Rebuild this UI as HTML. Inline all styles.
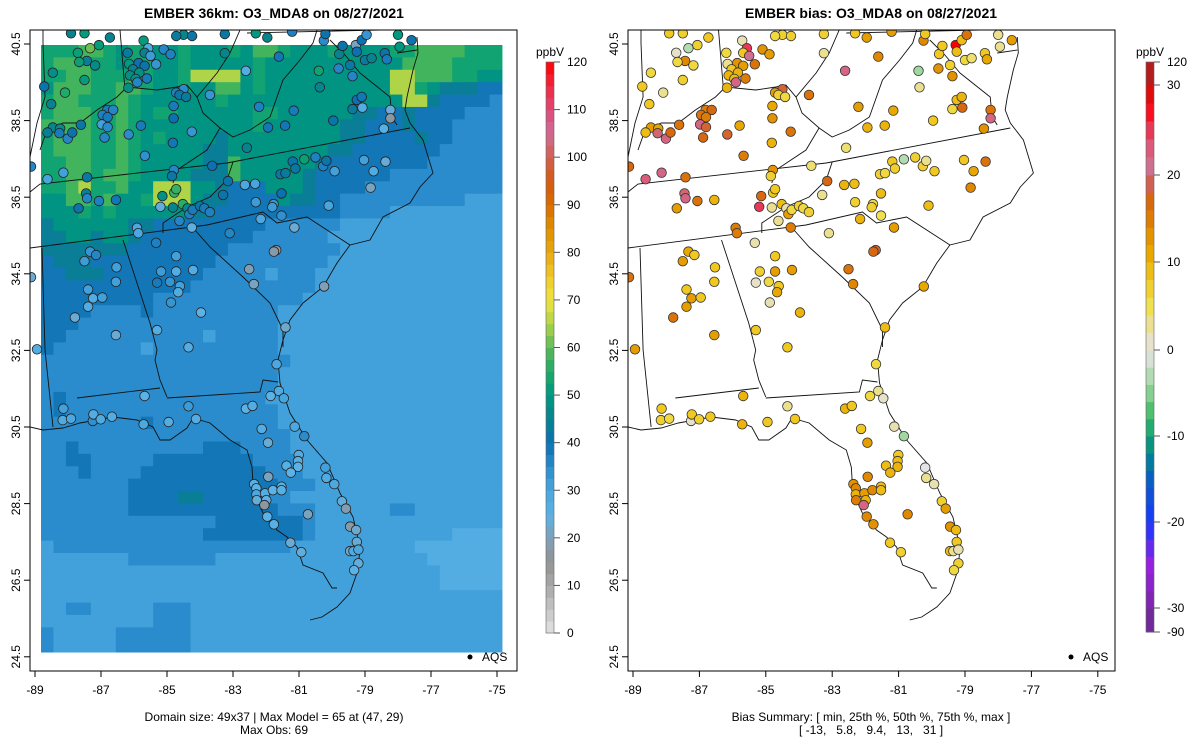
<!DOCTYPE html>
<html><head><meta charset="utf-8"><title>EMBER O3_MDA8</title>
<style>
html,body{margin:0;padding:0;background:#fff;}
svg{display:block;font-family:"Liberation Sans",Arial,sans-serif;}
</style></head>
<body>
<svg id="chart" width="1200" height="750" viewBox="0 0 1200 750" xmlns="http://www.w3.org/2000/svg">
<defs>
<clipPath id="clipL"><rect x="30" y="30" width="487" height="641"/></clipPath>
<clipPath id="clipR"><rect x="628" y="30" width="487" height="641"/></clipPath>
</defs>
<text x="274" y="18" text-anchor="middle" font-size="14" font-weight="bold">EMBER 36km: O3_MDA8 on 08/27/2021</text>
<text x="871" y="18" text-anchor="middle" font-size="14" font-weight="bold">EMBER bias: O3_MDA8 on 08/27/2021</text>
<g id="gridL" clip-path="url(#clipL)"></g>
<g id="mapL" clip-path="url(#clipL)"></g>
<g id="mapR" clip-path="url(#clipR)"></g>
<g id="ptsL" clip-path="url(#clipL)"></g>
<g id="ptsR" clip-path="url(#clipR)"></g>
<rect x="30" y="30" width="487" height="641" fill="none" stroke="#000" stroke-width="1"/>
<rect x="628" y="30" width="487" height="641" fill="none" stroke="#000" stroke-width="1"/>
<g id="axes"></g>
<g id="cbL"></g>
<g id="cbR"></g>
<circle cx="470" cy="657" r="2.5" fill="#000"/>
<text x="482" y="661" font-size="12">AQS</text>
<circle cx="1071" cy="657" r="2.5" fill="#000"/>
<text x="1083" y="661" font-size="12">AQS</text>
<text x="274" y="721" text-anchor="middle" font-size="12">Domain size: 49x37 | Max Model = 65 at (47, 29)</text>
<text x="274" y="734" text-anchor="middle" font-size="12">Max Obs: 69</text>
<text x="871" y="721" text-anchor="middle" font-size="12">Bias Summary: [ min, 25th %, 50th %, 75th %, max ]</text>
<text x="871" y="734" text-anchor="middle" font-size="12" xml:space="preserve">[ -13,   5.8,   9.4,   13,   31 ]</text>
</svg>
<script>
// ---- data ----
const modelRows = [
"ggghhgfggffgfffgfhhgfffgffffgghhhhggg",
"ghhhggfggffgfffffgfffffffffffhhhhggg",
"gghhggghgffgiiiifgffffffffffiihhhggff",
"fhhhgghhgffgffhhfgffffffffffiigfeeedd",
"ghhggghgffffffgffffffffffffffiieddddcc",
"ghhhgghgfggffffffggffffffeeddeddddccc",
"hhhhgghgfffffffffgffffffeedddedddcccc",
"ghhhgghgfgffffefffffffffeeddddeddccccc",
"ghhhgghgfffffeeffffffffeedddddddcccccc",
"gghhgghgfffffeehffffffeddddddddccccccc",
"gghhghhgffffeeehfffffeddddddccccccccccc",
"gghigghffiiiffedddfffeddddccccccccccc",
"ffhhghffgiiifeeddddfeeddccccccccccbbbb",
"fffgfgffffffeeddddddddddccccbbbbbbbbbbb",
"effffffeedddddddddccccccbbbbbbbbbbbbb",
"eeffeffedddddddddccccccbbbbbbbbbbbbbb",
"eeeeeeeddddddddcccccccccbbbbbbbbbbbbbb",
"deeeddddddddddcccccccccbbbbbbbbbbbbbb",
"ddeeeddddddddcccccbcccbbbbbbbbbbbbbbb",
"ddddddddddddccccccccccbbbbbbbbbbbbbbb",
"dddddddddccccccccccccbbbbbbbbbbbbbbbbb",
"ddddccccdccccccccccbbbbbbbbbbbbbbbbbb",
"dddccccccccccccccccbbbbbbbbbbbbbbbbbb",
"ddcccccccccccbcccccbbbbbbbbbbbbbbbbbb",
"dcccccccbccccccccccbbbbbbbbbbbbbbbbbb",
"ccccccccccccccccccccbbbbbbbbbbbbbbbbb",
"cccccccccccccccccccbbbbbbbbbbbbbbbbbb",
"cccccccccccccccccccbbbbbbbbbbbbbbbbbb",
"cdccccccccccccccccbbbbbbbbbbbbbbbbbbb",
"cdcccccccccccccccccbbbbbbbbbbbbbbbbbb",
"ccccccccdccccccccccbbbbbbbbbbbbbbbbbb",
"ccccccccccccccccccccbbbbbbbbbbbbbbbbb",
"ccdccccccccccdddccccbbbbbbbbbbbbbbbbb",
"ccddcccccddddddddccccbbbbbbbbbbbbbbbbb",
"cccdccccddddddddddcccbbbbbbbbbbbbbbbbb",
"cccccccddddddddddddcccbbbbbbbbbbbbbbbb",
"cccccccddddeedddddccbbbbbbbbbbbbbbbbbb",
"cccccccddddddddddddcccbbbbbbccbbbbbbbb",
"ccccccccccccccdddddddcbbbbbbbbbbbbbbbbb",
"cccccccccccccddddddddcbbbbbbbbbbbaaaaa",
"bcccccccccccccccccccbbbbbbbbbbaaaaaaa",
"bbbbbbbcccccccbbbbbbbbbbbbbbbbbaaaaaa",
"bbbbbbbbbbbbbbbbbbbbbbbbbbbbbbbbaaaaa",
"bbbbbbbbbbbbbbbbbbbbbbbbbbbbbbbbaaaaa",
"bbbbbbbbbbbbbbbbbbbbbbbbbbbbbbbbbbbbb",
"bbccbbbbbcccbbbbbbbbbbbbbbbbbbbbbbbbb",
"bbbbbbbbbcccbbbbbbbbbbbbbbbbbbbbbbbbb",
"cbbbbbccccccbbbbbbbbbbbbbbbbbbbbbbbbb",
"cbbbbbccccccbbbbbbbbbbbbbbbbbbbbbbbbb"];
const modelCodeValues = {a:27,b:31,c:35,d:39,e:44,f:49,g:53,h:58,i:65};
const stationLon = [-87.91,-87.50,-86.73,-87.33,-87.70,-87.06,-87.43,-87.66,-87.18,-88.46,-87.50,-88.72,-88.09,-88.51,-85.71,-85.57,-86.19,-85.68,-85.50,-85.10,-84.89,-86.15,-85.86,-85.68,-85.33,-86.03,-86.12,-85.84,-85.95,-85.90,-85.61,-86.17,-86.81,-86.63,-86.95,-86.80,-87.61,-86.98,-86.80,-86.89,-86.16,-85.79,-88.46,-88.24,-88.62,-88.26,-88.01,-87.87,-84.50,-84.24,-84.72,-83.25,-83.25,-82.31,-81.96,-81.21,-81.61,-82.61,-84.50,-84.72,-84.62,-84.42,-83.70,-84.80,-84.80,-84.25,-84.82,-85.67,-82.21,-81.16,-81.94,-81.42,-82.58,-79.96,-80.40,-80.37,-79.80,-79.78,-79.38,-79.45,-79.68,-80.25,-80.20,-79.28,-79.25,-79.00,-78.80,-78.40,-78.34,-78.00,-77.95,-77.59,-79.10,-78.95,-79.25,-79.10,-79.38,-79.08,-78.23,-78.23,-78.43,-83.63,-84.79,-84.85,-84.78,-84.72,-83.15,-83.30,-85.14,-85.20,-84.82,-84.52,-84.38,-84.32,-84.22,-84.00,-83.87,-83.70,-84.62,-84.25,-85.91,-85.87,-85.33,-83.10,-82.64,-82.33,-81.53,-81.56,-81.41,-81.19,-81.11,-80.84,-80.50,-80.27,-80.17,-79.92,-79.03,-78.38,-78.74,-78.83,-82.31,-81.77,-81.81,-81.53,-82.16,-81.14,-80.10,-81.69,-81.76,-82.51,-82.37,-80.24,-81.41,-88.62,-88.14,-87.42,-87.45,-87.42,-87.06,-86.55,-87.68,-89.12,-87.33,-87.15,-87.50,-86.53,-86.55,-87.39,-87.24,-87.39,-86.96,-87.79,-86.55,-85.30,-84.72,-85.18,-84.72,-84.21,-85.30,-84.91,-84.61,-84.66,-84.88,-83.97,-89.12,
-88.94,-84.35,-81.68,-85.68,-88.14,-88.16,-87.91,-87.25,-87.23,-87.01,-86.67,-85.71,-84.95,-84.35,-84.12,-82.61,-82.41,-81.86,-81.61,-81.46,-82.13,-81.94,-81.13,-80.84,-81.01,-81.03,-81.03,-81.38,-81.25,-81.93,-82.36,-82.29,-82.29,-82.28,-82.03,-81.99,-82.05,-81.79,-81.53,-81.53,-81.96,-81.76,-80.73,-81.26,-80.93,-80.20,-80.17,-79.93,-79.70,-79.58,-79.45,-79.27,-79.25,-79.45,-79.35,-79.20,-79.20,-79.33];
const stationLat = [40.78,40.78,40.67,40.39,40.27,40.47,40.06,40.03,39.94,39.75,39.56,39.39,39.23,38.93,40.59,40.39,40.27,40.27,40.19,40.36,40.23,39.98,40.00,39.93,39.97,39.84,39.68,39.75,39.59,39.50,39.60,39.36,38.78,38.78,38.65,38.59,38.39,38.40,38.33,38.06,38.14,38.37,38.32,38.29,38.19,38.17,38.03,38.19,40.74,40.71,40.71,40.76,40.26,40.78,40.67,40.82,40.17,39.80,39.32,39.23,39.17,39.12,39.17,38.88,38.56,38.21,37.92,37.58,38.86,38.76,38.32,38.37,37.79,38.50,39.80,39.37,39.86,40.24,39.66,39.95,40.45,40.59,40.76,40.47,40.30,40.08,40.13,40.26,40.10,40.74,40.43,40.60,40.60,40.74,39.04,39.12,38.80,38.84,38.78,38.56,38.29,37.32,37.21,37.05,36.62,36.71,36.92,36.56,36.53,36.25,36.23,36.32,36.21,36.06,36.17,36.27,36.21,36.11,35.88,35.71,35.70,35.56,35.31,35.56,36.82,36.85,36.60,37.10,37.13,37.43,37.25,37.49,37.54,37.31,37.45,37.18,37.47,37.43,37.18,36.75,36.37,36.32,36.24,36.02,35.93,35.71,36.28,35.12,35.08,34.62,34.23,34.17,33.10,36.97,37.14,37.02,36.60,36.47,36.40,36.43,36.21,37.30,35.08,34.99,34.83,34.67,34.29,34.09,33.86,33.64,33.88,33.36,32.90,33.03,34.96,34.56,34.56,34.60,34.27,34.29,34.18,34.02,33.75,33.49,34.41,
32.53,32.58,32.14,31.31,30.98,30.68,30.72,30.66,30.83,30.70,30.77,30.57,30.63,31.04,30.71,30.98,31.05,31.31,31.44,31.25,30.45,30.09,30.51,30.26,29.77,29.61,29.46,29.49,29.31,29.20,29.01,28.90,28.74,28.59,28.77,28.59,28.46,28.85,28.94,28.85,28.16,27.96,28.22,27.48,27.23,29.44,29.17,29.01,28.56,28.37,27.90,27.81,27.50,27.26,27.26,27.30,26.94,26.76];
const stationBias = [8,7,8,-3,1,7,14,6,6,6,7,8,3,8,2,25,6,8,21,13,12,3,13,12,16,8,10,10,9,22,15,10,15,17,16,15,16,22,18,17,18,11,12,11,9,20,22,17,7,7,6,7,3,8,12,12,14,22,18,12,7,6,16,11,13,16,10,15,12,11,10,10,4,8,-4,3,13,8,13,7,8,14,8,28,9,6,4,8,11,3,3,12,9,16,9,10,6,17,16,22,13,4,13,7,8,8,17,3,17,25,3,9,2,12,6,7,6,7,3,15,15,15,2,3,10,9,9,7,6,8,7,-3,7,7,3,8,8,16,11,14,7,6,7,5,10,12,9,18,17,16,14,11,9,23,22,16,20,22,16,10,12,17,11,8,12,8,8,8,12,12,8,16,12,8,8,7,12,12,1,6,8,11,2,10,16,
12,8,6,10,8,7,6,1,8,7,8,10,8,3,8,10,8,6,3,1,8,12,2,-4,8,9,10,9,10,14,13,14,10,15,12,10,22,14,9,9,14,13,14,8,7,0,3,2,7,12,13,9,8,9,3,2,7,6];
const xTickLabels = ["-89","-87","-85","-83","-81","-79","-77","-75"];
const xTickLons = [-89,-87,-85,-83,-81,-79,-77,-75];
const yTickLabels = ["40.5","38.5","36.5","34.5","32.5","30.5","28.5","26.5","24.5"];
const yTickLats = [40.5,38.5,36.5,34.5,32.5,30.5,28.5,26.5,24.5];
const obsTickValues = [0,10,20,30,40,50,60,70,80,90,100,110,120];
const biasTickValues = [-90,-30,-20,-10,0,10,20,30,120];

// ---- scales ----
const NS="http://www.w3.org/2000/svg";
function xL(lon){return 35+(lon+89)*33;}
function xR(lon){return 633+(lon+89)*33.2;}
function yS(lat){return 44+(40.5-lat)*38.3;}
const lon0=-88.818, dLon=0.3776, latTop=40.474, dLat=0.3235;
function hex(c){return [parseInt(c.slice(1,3),16),parseInt(c.slice(3,5),16),parseInt(c.slice(5,7),16)];}
function interp(stops,v){
  if(v<=stops[0][0]) return stops[0][1];
  for(let i=1;i<stops.length;i++){ if(v<=stops[i][0]){const a=stops[i-1],b=stops[i];const t=(v-a[0])/(b[0]-a[0]);const ca=hex(a[1]),cb=hex(b[1]);return 'rgb('+ca.map((x,k)=>Math.round(x+(cb[k]-x)*t)).join(',')+')';}}
  return stops[stops.length-1][1];
}
const obsStops=[[0,"#e2e2e2"],[10,"#a8a8a8"],[15,"#929292"],[20,"#7fa0b8"],[25,"#5ab2e6"],[30,"#48a6de"],[35,"#2a8ccc"],[40,"#0c70b2"],[45,"#08828f"],[50,"#009880"],[55,"#1eaa68"],[60,"#5cba58"],[65,"#b0d448"],[70,"#f0e440"],[75,"#f0c828"],[80,"#e8a810"],[85,"#e09000"],[90,"#d86c00"],[95,"#d45a10"],[100,"#d06050"],[105,"#d06c98"],[110,"#e04878"],[115,"#f02840"],[120,"#ff0000"]];
const biasStops=[[-90,"#6a2a8a"],[-30,"#7a28a8"],[-25,"#9a20e0"],[-20,"#1838ff"],[-15,"#0a60c0"],[-12,"#008890"],[-10,"#10a070"],[-7,"#50c070"],[-4,"#a0d8a0"],[-1,"#d8e0d8"],[0,"#e4e4e4"],[2,"#e8e0b0"],[5,"#f0e050"],[8,"#f0c820"],[11,"#e8a800"],[14,"#e08800"],[17,"#d86810"],[19,"#d06050"],[21,"#d07090"],[24,"#e05070"],[26,"#f02040"],[28,"#ff0000"],[30,"#c01818"],[120,"#a02828"]];
const biasPos=[[-90,632],[-30,608],[-20,522],[-10,436],[0,350],[10,262],[20,175],[30,85],[120,62]];
function biasY(v){for(let i=1;i<biasPos.length;i++){if(v<=biasPos[i][0]){const a=biasPos[i-1],b=biasPos[i];return a[1]+(v-a[0])/(b[0]-a[0])*(b[1]-a[1]);}}return 62;}
function obsY(v){return 633-(v/120)*571;}
function modelAt(lon,lat){
  let c=Math.floor((lon-lon0)/dLon), r=Math.floor((latTop-lat)/dLat);
  c=Math.max(0,Math.min(36,c)); r=Math.max(0,Math.min(48,r));
  const ch=modelRows[r][Math.min(c,modelRows[r].length-1)];
  return modelCodeValues[ch];
}
function mk(tag,attrs,parent){const e=document.createElementNS(NS,tag);for(const k in attrs)e.setAttribute(k,attrs[k]);parent.appendChild(e);return e;}

// ---- model grid ----
const gL=document.getElementById('gridL');
modelRows.forEach((row,r)=>{
  for(let c=0;c<37;c++){
    const ch=row[Math.min(c,row.length-1)];
    const v=modelCodeValues[ch];
    const x1=xL(lon0+c*dLon), x2=xL(lon0+(c+1)*dLon), y1=yS(latTop-r*dLat), y2=yS(latTop-(r+1)*dLat);
    const e=mk('rect',{x:x1.toFixed(2),y:y1.toFixed(2),width:(x2-x1+0.4).toFixed(2),height:(y2-y1+0.4).toFixed(2),fill:interp(obsStops,v)},gL);
    
    
  }
});

// ---- basemap (left-panel pixel outlines) ----
const outlines=[
 [[417,37],[418,53],[413,70],[407,97],[405,110],[410,123],[423,140],[433,173],[420,187],[410,203],[383,217],[370,240],[350,245],[337,263],[323,287],[303,303],[290,320],[283,340],[278,360],[280,383],[290,413],[307,440],[327,463],[340,493],[353,517],[360,547],[358,570],[350,593],[337,607],[322,617],[310,620]],
 [[337,588],[332,588],[323,573],[303,565],[297,547],[287,537],[277,530],[263,513],[257,500],[253,483],[252,467],[247,450],[230,440],[210,423],[193,418],[187,428],[170,440],[160,440],[153,427],[137,420],[113,417],[80,423],[63,428],[43,430],[30,427]],
 [[360,73],[375,85],[390,97],[392,117],[397,125]],
 [[397,53],[417,50]],
 [[30,192],[40,184],[227,163],[410,128]],
 [[30,248],[207,225],[263,212],[277,223],[307,217],[350,245]],
 [[195,230],[210,247],[243,277],[270,303],[283,330],[283,347]],
 [[233,162],[227,180],[210,197],[187,207],[163,223],[163,233]],
 [[123,240],[137,283],[150,323],[157,350],[155,360],[160,380],[167,397]],
 [[167,398],[260,392],[263,380],[278,382]],
 [[77,398],[160,388]],
 [[42,248],[45,350],[53,427]],
 [[40,150],[47,130],[63,123],[80,123],[97,110],[117,97],[127,87],[157,90],[177,87],[187,85],[197,97],[217,73],[230,53],[240,30]],
 [[197,97],[203,113],[220,128],[207,150],[177,170],[173,183]],
 [[220,128],[233,137],[250,130],[270,117],[283,80],[300,60],[313,43],[317,30]],
 [[43,30],[43,43],[45,97],[37,123],[30,157]],
 [[120,30],[125,90]],
 [[247,33],[380,30]],
 [[330,40],[345,55],[360,73]]
];
const mL=document.getElementById('mapL'), mR=document.getElementById('mapR');
outlines.forEach(pl=>{
  const dl=pl.map((p,i)=>(i?'L':'M')+p[0]+' '+p[1]).join(' ');
  const dr=pl.map((p,i)=>(i?'L':'M')+(633+(p[0]-35)*33.2/33).toFixed(1)+' '+p[1]).join(' ');
  const a=mk('path',{d:dl,fill:'none',stroke:'#111','stroke-width':0.9},mL);
  
  
  const b=mk('path',{d:dr,fill:'none',stroke:'#111','stroke-width':0.9},mR);
  
  
});

// ---- station points ----
const pL=document.getElementById('ptsL'), pR=document.getElementById('ptsR');
stationLon.forEach((lon,i)=>{
  const lat=stationLat[i], bias=stationBias[i];
  const obs=modelAt(lon,lat)-bias;
  const a=mk('circle',{cx:xL(lon).toFixed(1),cy:yS(lat).toFixed(1),r:4.8,fill:interp(obsStops,obs),stroke:'#222','stroke-width':0.8},pL);
  
  
  const b=mk('circle',{cx:xR(lon).toFixed(1),cy:yS(lat).toFixed(1),r:4.8,fill:interp(biasStops,bias),stroke:'#333','stroke-width':0.8},pR);
  
  
});

// ---- axes ----
const ax=document.getElementById('axes');
[[xL,30],[xR,628]].forEach(([fx,left])=>{
  xTickLons.forEach((lon,i)=>{
    const x=fx(lon);
    const t=mk('line',{x1:x,x2:x,y1:671,y2:677,stroke:'#000'},ax);
    
    
    const l=mk('text',{x:x,y:694,'text-anchor':'middle','font-size':12},ax);
    l.textContent=xTickLabels[i];
    
    
  });
  yTickLats.forEach((lat,i)=>{
    const y=yS(lat);
    const t=mk('line',{x1:left-6,x2:left,y1:y,y2:y,stroke:'#000'},ax);
    
    
    const l=mk('text',{x:0,y:0,'text-anchor':'middle','font-size':12,transform:'translate('+(left-10)+','+y+') rotate(-90)'},ax);
    l.textContent=yTickLabels[i];
    
    
  });
});

// ---- colorbars ----
const cL=document.getElementById('cbL');
for(let v=0;v<120;v+=2.5){
  const y1=obsY(v+2.5), y2=obsY(v);
  const s=mk('rect',{x:546,y:y1.toFixed(2),width:8,height:(y2-y1+0.5).toFixed(2),fill:interp(obsStops,v+1.25)},cL);
  
  
}
mk('rect',{x:546,y:obsY(120),width:8,height:obsY(0)-obsY(120),fill:'none',stroke:'#666','stroke-width':0.6},cL);
obsTickValues.forEach(v=>{
  const y=obsY(v);
  const t=mk('line',{x1:554,x2:560,y1:y,y2:y,stroke:'#555'},cL);
  
  
  const l=mk('text',{x:567,y:y+4,'font-size':12},cL);
  l.textContent=String(v);
  
  
});
const uL=mk('text',{x:550,y:56,'text-anchor':'middle','font-size':12},cL);
uL.textContent='ppbV';



const cR=document.getElementById('cbR');
const biasSegs=[-90,-30,-28,-26,-24,-22,-20,-18,-16,-14,-12,-10,-8,-6,-4,-2,0,2,4,6,8,10,12,14,16,18,20,22,24,26,28,30,120];
for(let i=0;i<biasSegs.length-1;i++){
  const a=biasSegs[i], b=biasSegs[i+1];
  const y1=biasY(b), y2=biasY(a);
  const mid=(a+b)/2;
  const s=mk('rect',{x:1146,y:y1.toFixed(2),width:8,height:(y2-y1+0.5).toFixed(2),fill:interp(biasStops,mid>30?60:(mid<-30?-60:mid))},cR);
  
  
}
mk('rect',{x:1146,y:62,width:8,height:570,fill:'none',stroke:'#666','stroke-width':0.6},cR);
biasTickValues.forEach(v=>{
  const y=biasY(v);
  const t=mk('line',{x1:1154,x2:1160,y1:y,y2:y,stroke:'#555'},cR);
  
  
  const l=mk('text',{x:1167,y:y+4,'font-size':12},cR);
  l.textContent=String(v);
  
  
});
const uR=mk('text',{x:1150,y:56,'text-anchor':'middle','font-size':12},cR);
uR.textContent='ppbV';


</script>
</body></html>
